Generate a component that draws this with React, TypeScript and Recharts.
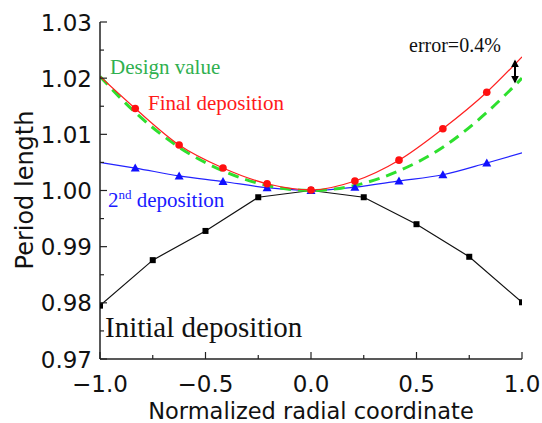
import React from "react";
import { LineChart, Line, XAxis, YAxis } from "recharts";

const xInitial = [-1, -0.75, -0.5, -0.25, 0, 0.25, 0.5, 0.75, 1];
const initialValues = [0.9795, 0.9876, 0.9928, 0.9988, 1.0, 0.9988, 0.994, 0.9882, 0.9801];

const xDeposition = [-1, -0.833, -0.625, -0.417, -0.208, 0, 0.208, 0.417, 0.625, 0.833, 1];
const finalValues = [1.0203, 1.0146, 1.0081, 1.004, 1.0012, 1.0001, 1.0017, 1.0054, 1.011, 1.0175, 1.0238];
const secondValues = [1.005, 1.004, 1.0026, 1.0016, 1.0005, 1.0, 1.0006, 1.0017, 1.0028, 1.0049, 1.0067];
const designValues = [1.0203, 1.0139, 1.0077, 1.0035, 1.0009, 1.0, 1.0009, 1.0035, 1.0077, 1.0139, 1.02];

const xTicks = [-1, -0.75, -0.5, -0.25, 0, 0.25, 0.5, 0.75, 1];
const xMajor = [-1, -0.5, 0, 0.5, 1];
const yTicks = [0.97, 0.975, 0.98, 0.985, 0.99, 0.995, 1.0, 1.005, 1.01, 1.015, 1.02, 1.025, 1.03];
const yMajor = [0.97, 0.98, 0.99, 1.0, 1.01, 1.02, 1.03];

const initialData = xInitial.map((x, i) => ({ x, y: initialValues[i] }));
const finalData = xDeposition.map((x, i) => ({ x, y: finalValues[i] }));
const secondData = xDeposition.map((x, i) => ({ x, y: secondValues[i] }));
const designData = xDeposition.map((x, i) => ({ x, y: designValues[i] }));

const AXIS = "#222";
const TICK_FONT = "'DejaVu Sans', sans-serif";
const SERIF = "'Liberation Serif', 'Times New Roman', serif";

const isMajor = (v: number, majors: number[]) => majors.some((m) => Math.abs(m - v) < 1e-6);
const fmtX = (v: number) => (v < 0 ? "\u2212" : "") + Math.abs(v).toFixed(1);

const BottomTick = (props: any) => {
  const { x, y, payload } = props;
  const major = isMajor(payload.value, xMajor);
  return (
    <g>
      <line x1={x} x2={x} y1={y} y2={y - (major ? 7 : 4)} stroke={AXIS} strokeWidth={1.2} />
      {major && (
        <text x={x} y={y + 33} textAnchor="middle" fontFamily={TICK_FONT} fontSize={23} fill="#111">
          {fmtX(payload.value)}
        </text>
      )}
    </g>
  );
};

const TopTick = (props: any) => {
  const { x, y, payload } = props;
  const major = isMajor(payload.value, xMajor);
  return <line x1={x} x2={x} y1={y} y2={y + (major ? 7 : 4)} stroke={AXIS} strokeWidth={1.2} />;
};

const LeftTick = (props: any) => {
  const { x, y, payload } = props;
  const major = isMajor(payload.value, yMajor);
  return (
    <g>
      <line x1={x} x2={x + (major ? 7 : 4)} y1={y} y2={y} stroke={AXIS} strokeWidth={1.2} />
      {major && (
        <text x={x - 8} y={y + 8.5} textAnchor="end" fontFamily={TICK_FONT} fontSize={23} fill="#111">
          {payload.value.toFixed(2)}
        </text>
      )}
    </g>
  );
};

const RightTick = (props: any) => {
  const { x, y, payload } = props;
  const major = isMajor(payload.value, yMajor);
  return <line x1={x} x2={x - (major ? 7 : 4)} y1={y} y2={y} stroke={AXIS} strokeWidth={1.2} />;
};

const SquareDot = (props: any) => {
  const { cx, cy, index } = props;
  return <rect key={`s${index}`} x={cx - 3} y={cy - 3} width={6} height={6} fill="#000" />;
};

const makeCircleDot = (n: number) => (props: any) => {
  const { cx, cy, index } = props;
  if (index === 0 || index === n - 1) return <g key={`c${index}`} />;
  return <circle key={`c${index}`} cx={cx} cy={cy} r={3.8} fill="#ff1010" />;
};

const makeTriangleDot = (n: number) => (props: any) => {
  const { cx, cy, index } = props;
  if (index === 0 || index === n - 1) return <g key={`t${index}`} />;
  return (
    <polygon
      key={`t${index}`}
      points={`${cx},${cy - 4.5} ${cx - 4.5},${cy + 3.5} ${cx + 4.5},${cy + 3.5}`}
      fill="#1010ff"
    />
  );
};

export default function App() {
  return (
    <div style={{ position: "absolute", left: 0, top: 0, width: 542, height: 423, background: "#fff" }}>
      <LineChart width={542} height={423} margin={{ top: 22, right: 20, bottom: 0, left: 0 }}>
        <defs>
          <clipPath id="plotClip">
            <rect x={100} y={22} width={422} height={337} />
          </clipPath>
        </defs>
        <XAxis
          type="number"
          dataKey="x"
          domain={[-1, 1]}
          ticks={xTicks}
          interval={0}
          allowDataOverflow
          height={64}
          tickSize={0}
          tickMargin={0}
          tick={<BottomTick />}
          axisLine={{ stroke: AXIS, strokeWidth: 1.5 }}
          tickLine={false}
          label={{
            value: "Normalized radial coordinate",
            position: "insideBottom",
            offset: 4,
            fontFamily: TICK_FONT,
            fontSize: 22.5,
            fill: "#111",
          }}
        />
        <XAxis
          xAxisId="top"
          orientation="top"
          type="number"
          dataKey="x"
          domain={[-1, 1]}
          ticks={xTicks}
          interval={0}
          allowDataOverflow
          height={0}
          tickSize={0}
          tickMargin={0}
          tick={<TopTick />}
          axisLine={{ stroke: AXIS, strokeWidth: 1.5 }}
          tickLine={false}
        />
        <YAxis
          type="number"
          domain={[0.97, 1.03]}
          ticks={yTicks}
          interval={0}
          allowDataOverflow
          width={100}
          tickSize={0}
          tickMargin={0}
          tick={<LeftTick />}
          axisLine={{ stroke: AXIS, strokeWidth: 1.5 }}
          tickLine={false}
        />
        <YAxis
          yAxisId="right"
          orientation="right"
          type="number"
          domain={[0.97, 1.03]}
          ticks={yTicks}
          interval={0}
          allowDataOverflow
          width={0}
          tickSize={0}
          tickMargin={0}
          tick={<RightTick />}
          axisLine={{ stroke: AXIS, strokeWidth: 1.5 }}
          tickLine={false}
        />
        <Line
          data={initialData}
          dataKey="y"
          type="linear"
          stroke="#111"
          strokeWidth={1.2}
          dot={<SquareDot />}
          isAnimationActive={false}
        />
        <Line
          data={secondData}
          dataKey="y"
          type="monotone"
          stroke="#2222ff"
          strokeWidth={1.2}
          dot={makeTriangleDot(secondData.length)}
          isAnimationActive={false}
        />
        <Line
          data={designData}
          dataKey="y"
          type="monotone"
          stroke="#2ee02e"
          strokeWidth={3}
          strokeDasharray="11 7"
          dot={false}
          isAnimationActive={false}
        />
        <Line
          data={finalData}
          dataKey="y"
          type="monotone"
          stroke="#ff2020"
          strokeWidth={1.2}
          dot={makeCircleDot(finalData.length)}
          isAnimationActive={false}
        />
      </LineChart>
      <svg
        width={542}
        height={423}
        style={{ position: "absolute", left: 0, top: 0, pointerEvents: "none" }}
      >
        <defs>
          <marker id="ah" viewBox="0 0 10 10" refX="8" refY="5" markerWidth="4" markerHeight="4" orient="auto-start-reverse">
            <path d="M0,0 L10,5 L0,10 z" fill="#000" />
          </marker>
        </defs>
        <text
          x={25}
          y={190}
          transform="rotate(-90 25 190)"
          textAnchor="middle"
          dominantBaseline="central"
          fontFamily={TICK_FONT}
          fontSize={24}
          fill="#111"
        >
          Period length
        </text>
        <text x={110} y={74} fontFamily={SERIF} fontSize={21} fill="#30b050">
          Design value
        </text>
        <text x={148} y={110} fontFamily={SERIF} fontSize={21} fill="#ff1a1a">
          Final deposition
        </text>
        <text x={108} y={207} fontFamily={SERIF} fontSize={21} fill="#1a1aff">
          2<tspan dy={-8} fontSize={13}>nd</tspan>
          <tspan dy={8}> deposition</tspan>
        </text>
        <text x={105} y={337} fontFamily={SERIF} fontSize={29} fill="#111">
          Initial deposition
        </text>
        <text x={409} y={52} fontFamily={SERIF} fontSize={20} fill="#111">
          error=0.4%
        </text>
        <line
          x1={515}
          y1={61}
          x2={515}
          y2={82}
          stroke="#000"
          strokeWidth={2}
          markerStart="url(#ah)"
          markerEnd="url(#ah)"
        />
      </svg>
    </div>
  );
}
